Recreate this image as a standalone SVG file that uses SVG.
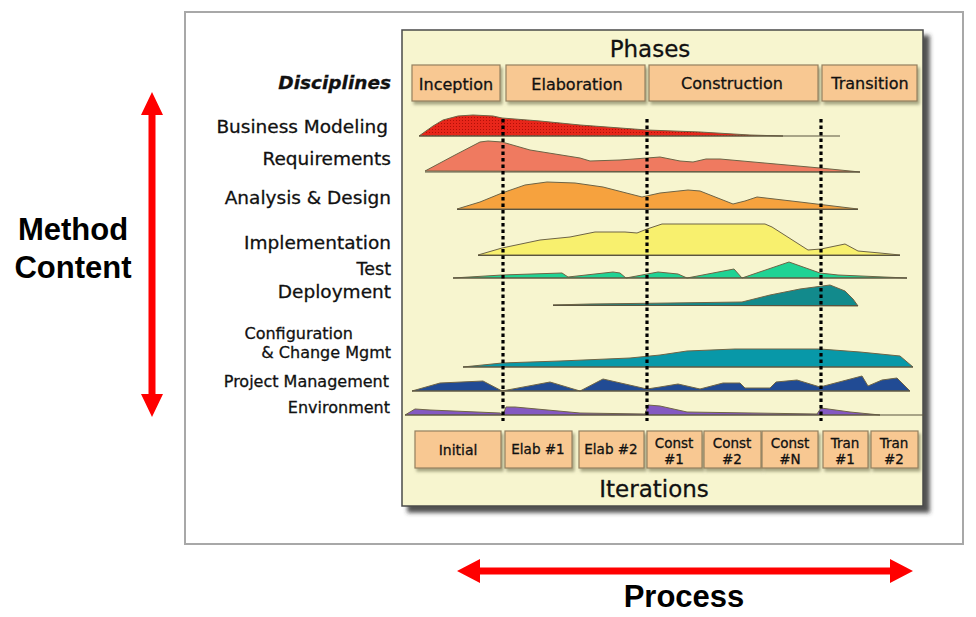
<svg xmlns="http://www.w3.org/2000/svg" width="976" height="617" viewBox="0 0 976 617">
<style>
.lbl{font-family:"DejaVu Sans",Verdana,sans-serif;fill:#111;stroke:#111;stroke-width:0.3;}
.big{font-family:"Liberation Sans",Arial,sans-serif;font-weight:bold;font-size:31px;fill:#000;}
.box{fill:#f8c892;stroke:#948060;stroke-width:1.2;filter:url(#bs);}
.curve{stroke:#6e6446;stroke-width:1;stroke-linejoin:round;}
.base{stroke:#5a5440;stroke-width:1.2;fill:none;}
.dots{stroke:#000;stroke-width:3.2;stroke-dasharray:3.5 3;fill:none;}
.red{fill:#ff0000;}
</style>
<defs>
<filter id="ps" x="-5%" y="-5%" width="112%" height="112%">
<feDropShadow dx="6" dy="6" stdDeviation="2" flood-color="#303030" flood-opacity="0.85"/>
</filter>
<filter id="bs" x="-10%" y="-10%" width="125%" height="140%">
<feDropShadow dx="2" dy="3" stdDeviation="1.5" flood-color="#707050" flood-opacity="0.6"/>
</filter>
<pattern id="stip" width="3" height="3" patternUnits="userSpaceOnUse">
<rect width="3" height="3" fill="#e8261a"/>
<rect x="0" y="0" width="1" height="1" fill="#b01008"/>
</pattern>
</defs>
<rect width="976" height="617" fill="#ffffff"/>
<rect id="frame" x="185" y="12" width="778" height="532" fill="#ffffff" stroke="#a8a8a8" stroke-width="2"/>
<g id="panel">
<rect x="402" y="30" width="521" height="476" fill="#f7f5cf" stroke="#4a4a4a" stroke-width="1.5" filter="url(#ps)"/>
<text class="lbl" x="650" y="57" font-size="23" text-anchor="middle">Phases</text>
<text class="lbl" x="654" y="497" font-size="23" text-anchor="middle">Iterations</text>
<text class="lbl" x="391" y="89" font-size="18.5" font-weight="bold" font-style="italic" text-anchor="end">Disciplines</text>
</g>
<g id="phases">
<g id="phase-inception"><rect class="box" x="412" y="65" width="88" height="36"/><text class="lbl" x="456" y="90" font-size="16" text-anchor="middle">Inception</text></g>
<g id="phase-elaboration"><rect class="box" x="506" y="65" width="139" height="36"/><text class="lbl" x="577" y="90" font-size="16" text-anchor="middle">Elaboration</text></g>
<g id="phase-construction"><rect class="box" x="649" y="65" width="169" height="36"/><text class="lbl" x="732" y="89" font-size="16" text-anchor="middle">Construction</text></g>
<g id="phase-transition"><rect class="box" x="822" y="65" width="95" height="36"/><text class="lbl" x="870" y="89" font-size="16" text-anchor="middle">Transition</text></g>
</g>
<g id="disc-business-modeling">
<text class="lbl" x="388" y="133" font-size="18.5" text-anchor="end">Business Modeling</text>
<polygon class="curve" fill="url(#stip)" points="419,136 433,126 443,120 458,116 473,115 493,116 502,118 540,121 580,125 647,130 700,132 750,135 783,136"/>
<line class="base" x1="419" y1="136" x2="840" y2="136"/>
</g>
<g id="disc-requirements">
<text class="lbl" x="391" y="165" font-size="18.5" text-anchor="end">Requirements</text>
<polygon class="curve" fill="#ef7a60" points="425,171 455,155 480,142 488,141 502,142 530,150 580,158 590,161 620,160 647,158 660,157 680,161 693,162 706,159 720,159 820,168 860,172"/>
<line class="base" x1="425" y1="172" x2="860" y2="172"/>
</g>
<g id="disc-analysis-design">
<text class="lbl" x="391" y="204" font-size="18.5" text-anchor="end">Analysis &amp; Design</text>
<polygon class="curve" fill="#f6a23e" points="457,209 480,202 502,193 525,185 547,182 575,183 603,187 642,197 660,193 688,190 700,191 733,204 745,201 757,197 800,202 858,209"/>
<line class="base" x1="457" y1="209.5" x2="858" y2="209.5"/>
</g>
<g id="disc-implementation">
<text class="lbl" x="391" y="249" font-size="18.5" text-anchor="end">Implementation</text>
<polygon class="curve" fill="#f8f06e" points="478,255 502,248 540,240 570,237 595,232 625,232 637,233 647,229 662,224 765,224 772,227 808,250 821,249 845,244 858,251 880,253 900,255"/>
<line class="base" x1="478" y1="255.5" x2="900" y2="255.5"/>
</g>
<g id="disc-test">
<text class="lbl" x="391" y="275" font-size="17.5" text-anchor="end">Test</text>
<polygon class="curve" fill="#1fd394" points="453,278 502,275 562,273 568,277 613,272 620,273 626,278 658,272 678,274 687,278 734,269 742,278 789,262 820,273 838,275 907,278"/>
<line class="base" x1="453" y1="278" x2="907" y2="278"/>
</g>
<g id="disc-deployment">
<text class="lbl" x="391" y="298" font-size="18.5" text-anchor="end">Deployment</text>
<polygon class="curve" fill="#128a8c" points="553,305 590,304 670,303 742,302 770,295 800,289 815,287 830,285 845,291 853,299 858,306"/>
<line class="base" x1="553" y1="305.5" x2="858" y2="305.5"/>
</g>
<g id="disc-configuration">
<text class="lbl" x="353" y="339" font-size="16" text-anchor="end">Configuration</text>
<text class="lbl" x="391" y="358" font-size="16" text-anchor="end">&amp; Change Mgmt</text>
<polygon class="curve" fill="#0898a8" points="463,367 502,363 560,361 630,358 660,355 687,351 735,349 820,349 860,352 900,356 913,367"/>
<line class="base" x1="463" y1="367" x2="913" y2="367"/>
</g>
<g id="disc-project-management">
<text class="lbl" x="389" y="387" font-size="16" text-anchor="end">Project Management</text>
<polygon class="curve" fill="#214b94" points="412,391 440,383 483,381 502,391 550,382 580,391 603,379 647,389 660,387 678,384 700,389 723,383 740,383 745,388 770,388 776,382 797,380 820,387 862,376 868,386 882,380 897,378 910,391"/>
<line class="base" x1="412" y1="391" x2="910" y2="391"/>
</g>
<g id="disc-environment">
<text class="lbl" x="390" y="413" font-size="16" text-anchor="end">Environment</text>
<polygon class="curve" fill="#8458c2" points="405,415 415,409 430,410 500,413 503,415 506,407 515,407 580,413 645,414 648,405 660,406 687,412 817,414 821,408 850,412 880,415"/>
<line class="base" x1="405" y1="415" x2="924" y2="415"/>
</g>
<g id="iterations">
<g id="it-initial"><rect class="box" x="415" y="431" width="86" height="37"/><text class="lbl" x="458" y="455" font-size="14" text-anchor="middle">Initial</text></g>
<g id="it-elab1"><rect class="box" x="505" y="431" width="67" height="37"/><text class="lbl" x="538" y="454" font-size="13.5" text-anchor="middle">Elab #1</text></g>
<g id="it-elab2"><rect class="box" x="579" y="431" width="65" height="37"/><text class="lbl" x="611" y="454" font-size="13.5" text-anchor="middle">Elab #2</text></g>
<g id="it-const1"><rect class="box" x="647" y="431" width="55" height="37"/><text class="lbl" x="674" y="448" font-size="13.5" text-anchor="middle">Const</text><text class="lbl" x="674" y="464" font-size="13.5" text-anchor="middle">#1</text></g>
<g id="it-const2"><rect class="box" x="704" y="431" width="57" height="37"/><text class="lbl" x="732" y="448" font-size="13.5" text-anchor="middle">Const</text><text class="lbl" x="732" y="464" font-size="13.5" text-anchor="middle">#2</text></g>
<g id="it-constN"><rect class="box" x="762" y="431" width="56" height="37"/><text class="lbl" x="790" y="448" font-size="13.5" text-anchor="middle">Const</text><text class="lbl" x="790" y="464" font-size="13.5" text-anchor="middle">#N</text></g>
<g id="it-tran1"><rect class="box" x="823" y="431" width="45" height="37"/><text class="lbl" x="845" y="448" font-size="13.5" text-anchor="middle">Tran</text><text class="lbl" x="845" y="464" font-size="13.5" text-anchor="middle">#1</text></g>
<g id="it-tran2"><rect class="box" x="871" y="431" width="47" height="37"/><text class="lbl" x="894" y="448" font-size="13.5" text-anchor="middle">Tran</text><text class="lbl" x="894" y="464" font-size="13.5" text-anchor="middle">#2</text></g>
</g>
<g id="connectors">
<line class="dots" x1="503" y1="119" x2="503" y2="421"/>
<line class="dots" x1="647" y1="119" x2="647" y2="421"/>
<line class="dots" x1="821" y1="119" x2="821" y2="421"/>
<polygon class="red" points="152,92 163,115 155.5,115 155.5,394 163,394 152,417 141,394 148.5,394 148.5,115 141,115"/>
<polygon class="red" points="457,571 480,559 480,567.5 890,567.5 890,559 913,571 890,583 890,574.5 480,574.5 480,583"/>
</g>
<g id="method-content">
<text class="big" x="73" y="240" text-anchor="middle">Method</text>
<text class="big" x="73" y="278" text-anchor="middle">Content</text>
</g>
<g id="process">
<text class="big" x="684" y="607" text-anchor="middle">Process</text>
</g>
</svg>
